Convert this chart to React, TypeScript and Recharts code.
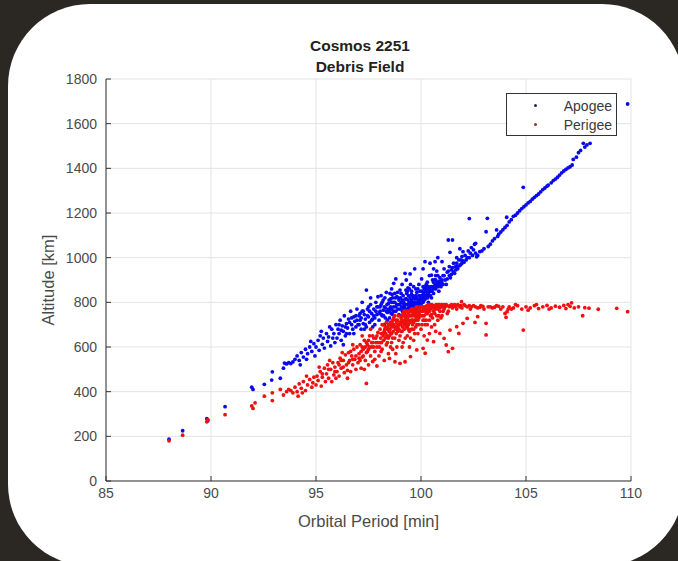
import React from "react";
import { ScatterChart, Scatter, XAxis, YAxis, CartesianGrid } from "recharts";

// [orbital period (min), altitude (km)]
const periodTicks = [85, 90, 95, 100, 105, 110];
const altitudeTicks = [0, 200, 400, 600, 800, 1000, 1200, 1400, 1600, 1800];

const apogee: [number, number][] = [
  [88.0, 187], [88.65, 225], [89.8, 279], [89.85, 270], [90.67, 333], [91.94, 420], [92.0, 410], [92.54, 433],
  [92.89, 452], [92.92, 489], [93.3, 460], [93.5, 528], [93.6, 524], [93.7, 530], [93.8, 526], [93.9, 533], [93.45, 505],
  [94.0, 545], [94.1, 560], [94.2, 540], [94.3, 575], [94.4, 555], [94.5, 590], [94.6, 570], [94.7, 600],
  [94.8, 580], [94.9, 615], [94.25, 520], [94.55, 545], [94.75, 625], [94.95, 560],
  [95.0, 600], [95.1, 630], [95.15, 585], [95.2, 650], [95.3, 612], [95.35, 640], [95.4, 595], [95.5, 660],
  [95.55, 625], [95.6, 645], [95.7, 605], [95.75, 680], [95.8, 640], [95.85, 660], [95.9, 620], [95.95, 700],
  [95.25, 670], [95.65, 690],
  [96.0, 640], [96.05, 680], [96.1, 660], [96.15, 720], [96.2, 630], [96.25, 695], [96.3, 670], [96.35, 740],
  [96.4, 650], [96.45, 705], [96.5, 685], [96.55, 725], [96.6, 660], [96.65, 760], [96.7, 700], [96.75, 680],
  [96.8, 735], [96.85, 715], [96.9, 690], [96.95, 770], [96.3, 610], [96.8, 660],
  [96.1, 700], [96.2, 675], [96.4, 690], [96.6, 710], [96.7, 730], [96.9, 740], [96.45, 660], [96.95, 720],
  [97.0, 700], [97.05, 740], [97.1, 720], [97.15, 680], [97.2, 760], [97.25, 705], [97.3, 745], [97.35, 725],
  [97.4, 855], [97.4, 690], [97.45, 770], [97.5, 735], [97.55, 710], [97.6, 790], [97.65, 750], [97.7, 725],
  [97.75, 770], [97.8, 700], [97.85, 800], [97.9, 745], [97.95, 825], [97.2, 800], [97.6, 820], [97.3, 680],
  [97.7, 690], [97.9, 780],
  [97.05, 700], [97.15, 730], [97.25, 760], [97.35, 700], [97.45, 740], [97.55, 760], [97.65, 720], [97.75, 740],
  [97.85, 760], [97.95, 780], [97.1, 750], [97.5, 780], [97.8, 730],
  [98.0, 720], [98.05, 760], [98.1, 790], [98.15, 740], [98.2, 810], [98.25, 700], [98.3, 775], [98.35, 845],
  [98.4, 755], [98.45, 795], [98.5, 730], [98.52, 840], [98.55, 815], [98.6, 770], [98.65, 745], [98.7, 885],
  [98.75, 800], [98.8, 760], [98.85, 825], [98.9, 790], [98.95, 745], [99.0, 855], [98.1, 830], [98.3, 730],
  [98.6, 860], [98.8, 905], [98.4, 720], [98.9, 820], [98.2, 765], [98.7, 780], [98.5, 760],
  [98.05, 780], [98.15, 800], [98.25, 780], [98.35, 760], [98.45, 770], [98.0, 750], [98.12, 745], [98.28, 820],
  [98.38, 790], [98.48, 810], [98.22, 740],
  [98.55, 780], [98.6, 800], [98.65, 820], [98.7, 760], [98.75, 840], [98.8, 780], [98.85, 790], [98.9, 770],
  [98.95, 810], [98.58, 750], [98.68, 800], [98.78, 820], [98.88, 845], [98.98, 790], [98.62, 835],
  [99.0, 770], [99.05, 800], [99.1, 740], [99.15, 830], [99.2, 785], [99.24, 930], [99.25, 760], [99.3, 815],
  [99.35, 850], [99.4, 775], [99.45, 800], [99.48, 927], [99.5, 760], [99.55, 835], [99.6, 790], [99.65, 870],
  [99.7, 815], [99.75, 770], [99.8, 845], [99.85, 800], [99.9, 880], [99.95, 780], [99.1, 880], [99.3, 900],
  [99.5, 880], [99.7, 950], [99.9, 830], [99.2, 750], [99.4, 830], [99.6, 760], [99.8, 800], [99.35, 790],
  [99.55, 810], [99.75, 860], [99.95, 850], [99.15, 770], [99.45, 860], [99.65, 820], [99.85, 780],
  [99.02, 820], [99.08, 780], [99.12, 810], [99.18, 800], [99.22, 775], [99.28, 790], [99.32, 840], [99.38, 810],
  [99.42, 795], [99.48, 820], [99.05, 840], [99.15, 795], [99.25, 815], [99.35, 770], [99.45, 780], [99.12, 760],
  [99.38, 865], [99.28, 855],
  [99.52, 790], [99.58, 800], [99.62, 780], [99.68, 800], [99.72, 790], [99.78, 820], [99.82, 815], [99.88, 800],
  [99.92, 810], [99.98, 820], [99.55, 850], [99.65, 795], [99.75, 830], [99.85, 860], [99.95, 800], [99.6, 830],
  [99.7, 785], [99.8, 780], [99.9, 795], [99.58, 775], [99.78, 795],
  [100.0, 790], [100.03, 905], [100.05, 830], [100.1, 800], [100.15, 860], [100.19, 982], [100.2, 815],
  [100.25, 880], [100.3, 840], [100.35, 800], [100.4, 920], [100.43, 975], [100.45, 850], [100.5, 922],
  [100.5, 820], [100.55, 870], [100.6, 840], [100.67, 982], [100.65, 900], [100.7, 860], [100.75, 940],
  [100.8, 880], [100.85, 850], [100.9, 910], [100.95, 870], [101.0, 982], [101.0, 900], [100.1, 950],
  [100.3, 890], [100.6, 950], [100.8, 1000], [100.2, 870], [100.4, 830], [100.7, 920], [100.9, 880],
  [100.05, 810], [100.35, 870], [100.55, 900], [100.75, 880],
  [100.02, 830], [100.08, 820], [100.12, 840], [100.18, 830], [100.22, 850], [100.28, 860], [100.32, 820],
  [100.38, 850], [100.42, 860], [100.48, 870], [100.05, 850], [100.15, 810], [100.25, 830], [100.35, 840],
  [100.45, 830], [100.1, 870], [100.3, 870],
  [100.52, 850], [100.58, 860], [100.62, 870], [100.68, 880], [100.72, 870], [100.78, 890], [100.82, 870],
  [100.88, 895], [100.92, 890], [100.98, 890], [100.6, 890], [100.8, 920], [100.7, 900],
  [101.05, 920], [101.1, 950], [101.2, 880], [101.25, 935], [101.3, 1079], [101.35, 960], [101.38, 1024],
  [101.4, 910], [101.45, 945], [101.5, 1079], [101.55, 975], [101.6, 930], [101.65, 960], [101.7, 1000],
  [101.75, 950], [101.8, 990], [101.85, 1040], [101.9, 970], [101.95, 1005], [102.0, 1027], [102.0, 985],
  [102.1, 1010], [102.2, 1000], [102.25, 1030], [102.3, 1175], [102.35, 1020], [102.4, 1045], [102.5, 1035],
  [102.55, 1060], [102.6, 1064],
  [101.05, 880], [101.15, 900], [101.25, 905], [101.35, 920], [101.45, 925], [101.55, 935], [101.65, 945],
  [101.75, 960], [101.85, 965], [101.95, 975], [101.1, 920], [101.3, 940], [101.5, 955], [101.7, 975],
  [101.9, 990], [102.05, 980], [102.15, 990], [102.3, 1000], [102.45, 1010], [102.6, 1020], [102.65, 1004],
  [102.7, 1010], [102.8, 1027], [102.9, 1030], [103.0, 1040], [103.1, 1116], [103.16, 1176], [103.2, 1050],
  [103.3, 1060], [103.4, 1075], [103.5, 1085], [103.6, 1124], [103.65, 1095], [103.7, 1105], [103.8, 1115],
  [103.9, 1125], [104.0, 1135], [104.08, 1181], [104.1, 1145], [104.2, 1160], [104.3, 1170], [104.4, 1185],
  [104.5, 1190], [104.6, 1200], [104.7, 1210], [104.87, 1315], [104.8, 1220], [104.9, 1228], [105.0, 1236],
  [105.1, 1245], [105.2, 1252], [105.3, 1262], [105.4, 1270], [105.5, 1278], [105.6, 1285], [105.7, 1295],
  [105.8, 1305], [105.9, 1312], [106.0, 1320], [106.06, 1325], [106.2, 1335], [106.3, 1345], [106.4, 1352],
  [106.5, 1360], [106.6, 1370], [106.7, 1380], [106.8, 1388], [106.9, 1395], [107.0, 1402], [107.1, 1407],
  [107.2, 1415], [107.25, 1440], [107.4, 1450], [107.5, 1470], [107.6, 1480], [107.73, 1512], [107.8, 1495],
  [107.9, 1505], [108.05, 1512], [109.84, 1688],
];

const perigee: [number, number][] = [
  [88.0, 180], [88.65, 205], [89.8, 265], [89.85, 275], [90.67, 297], [91.94, 336], [92.1, 350], [92.0, 325],
  [92.54, 380], [92.92, 360], [92.92, 395], [93.3, 410], [93.6, 400], [93.7, 410], [93.8, 405], [93.9, 395], [93.45, 385],
  [94.0, 420], [94.1, 400], [94.2, 435], [94.3, 415], [94.4, 445], [94.5, 405], [94.6, 430], [94.7, 455],
  [94.8, 420], [94.9, 465], [94.15, 380], [94.55, 470], [94.85, 440], [94.35, 395],
  [95.0, 430], [95.05, 470], [95.1, 450], [95.2, 490], [95.25, 425], [95.3, 465], [95.4, 505], [95.45, 445],
  [95.5, 480], [95.55, 520], [95.6, 460], [95.7, 500], [95.75, 445], [95.8, 530], [95.85, 475], [95.9, 510],
  [95.95, 460], [95.15, 510], [95.65, 540], [95.3, 480], [95.6, 500], [95.9, 490],
  [96.0, 490], [96.05, 530], [96.1, 470], [96.15, 550], [96.2, 505], [96.3, 540], [96.35, 485], [96.4, 565],
  [96.45, 520], [96.5, 495], [96.55, 575], [96.6, 540], [96.65, 490], [96.7, 560], [96.75, 520], [96.8, 590],
  [96.85, 545], [96.9, 500], [96.95, 600], [96.25, 575], [96.75, 610], [96.5, 460],
  [96.1, 520], [96.3, 510], [96.55, 530], [96.75, 545], [96.9, 560], [96.2, 540], [96.65, 580],
  [97.0, 530], [97.05, 570], [97.1, 610], [97.15, 505], [97.2, 555], [97.25, 590], [97.3, 630], [97.35, 540],
  [97.4, 437], [97.4, 575], [97.45, 610], [97.5, 520], [97.55, 650], [97.6, 560], [97.65, 600], [97.7, 535],
  [97.75, 640], [97.8, 580], [97.85, 620], [97.9, 515], [97.95, 665], [97.2, 650], [97.6, 680], [97.8, 545],
  [97.3, 500], [97.7, 620], [97.1, 540], [97.5, 590], [97.9, 600],
  [97.05, 550], [97.15, 580], [97.25, 560], [97.35, 600], [97.45, 580], [97.55, 600], [97.65, 620], [97.75, 600],
  [97.85, 640], [97.95, 620], [97.2, 600], [97.5, 630], [97.7, 650], [97.9, 650], [97.4, 620],
  [98.0, 560], [98.05, 620], [98.1, 660], [98.15, 590], [98.2, 700], [98.25, 540], [98.3, 640], [98.35, 610],
  [98.4, 680], [98.45, 570], [98.5, 549], [98.5, 650], [98.55, 710], [98.6, 620], [98.65, 590], [98.7, 690],
  [98.75, 640], [98.76, 534], [98.8, 720], [98.85, 600], [98.9, 670], [98.95, 630], [98.1, 580], [98.3, 690],
  [98.6, 660], [98.8, 570], [98.4, 620], [98.7, 730], [98.9, 700], [98.2, 650], [98.55, 600], [98.25, 670],
  [98.45, 700], [98.65, 640], [98.85, 680],
  [98.02, 600], [98.08, 640], [98.12, 620], [98.18, 660], [98.22, 630], [98.28, 680], [98.32, 660], [98.38, 650],
  [98.42, 690], [98.48, 670], [98.05, 680], [98.15, 700], [98.35, 710], [98.45, 640],
  [98.52, 680], [98.58, 690], [98.62, 710], [98.68, 670], [98.72, 700], [98.78, 690], [98.82, 660], [98.88, 720],
  [98.92, 740], [98.98, 700], [98.55, 660], [98.65, 720], [98.75, 740], [98.85, 710], [98.95, 680], [98.6, 700],
  [98.8, 680], [98.9, 690],
  [99.0, 527], [99.0, 650], [99.05, 700], [99.1, 740], [99.15, 620], [99.2, 680], [99.24, 534], [99.25, 720],
  [99.3, 760], [99.35, 650], [99.4, 700], [99.45, 600], [99.5, 557], [99.5, 740], [99.55, 680], [99.6, 770],
  [99.65, 630], [99.7, 720], [99.75, 690], [99.8, 587], [99.8, 760], [99.85, 660], [99.9, 730], [99.95, 780],
  [99.1, 600], [99.3, 690], [99.5, 640], [99.7, 660], [99.9, 700], [99.2, 760], [99.4, 750], [99.6, 720],
  [99.8, 700], [99.15, 710], [99.35, 730], [99.55, 770], [99.75, 750], [99.95, 740], [99.05, 670], [99.25, 640],
  [99.45, 670], [99.65, 710], [99.85, 740],
  [99.02, 710], [99.08, 720], [99.12, 690], [99.18, 740], [99.22, 700], [99.28, 730], [99.32, 710], [99.38, 760],
  [99.42, 720], [99.48, 710], [99.05, 730], [99.15, 750], [99.25, 700], [99.35, 690], [99.45, 740], [99.1, 670],
  [99.3, 740], [99.4, 680], [99.2, 720],
  [99.52, 760], [99.58, 740], [99.62, 750], [99.68, 770], [99.72, 740], [99.78, 780], [99.82, 740], [99.88, 760],
  [99.92, 770], [99.98, 760], [99.55, 720], [99.65, 760], [99.75, 720], [99.85, 770], [99.95, 760], [99.6, 700],
  [99.7, 740], [99.8, 730], [99.9, 750], [99.65, 680], [99.85, 720],
  [100.0, 760], [100.05, 700], [100.1, 594], [100.1, 780], [100.15, 740], [100.2, 572], [100.2, 700],
  [100.25, 770], [100.3, 631], [100.3, 750], [100.35, 790], [100.4, 720], [100.45, 770], [100.5, 745],
  [100.55, 785], [100.6, 624], [100.6, 760], [100.65, 700], [100.7, 780], [100.75, 740], [100.8, 770],
  [100.85, 790], [100.9, 661], [100.9, 760], [100.95, 780], [101.0, 740], [100.0, 680], [100.4, 660],
  [100.8, 720], [100.15, 650], [100.5, 690], [100.7, 670], [100.25, 720], [100.55, 730], [100.95, 730],
  [100.02, 780], [100.08, 760], [100.12, 770], [100.18, 780], [100.22, 760], [100.28, 785], [100.32, 770],
  [100.38, 780], [100.42, 790], [100.48, 775], [100.05, 740], [100.15, 720], [100.25, 750], [100.35, 760],
  [100.45, 740], [100.1, 720], [100.3, 700], [100.4, 760],
  [100.52, 790], [100.58, 775], [100.62, 785], [100.68, 770], [100.72, 790], [100.78, 780], [100.82, 790],
  [100.88, 775], [100.92, 785], [100.98, 790], [101.02, 780], [101.08, 790], [101.15, 780], [101.25, 785],
  [101.35, 780], [101.45, 790], [100.65, 750], [100.85, 740], [101.05, 760], [101.25, 750],
  [101.05, 785], [101.1, 639], [101.1, 770], [101.2, 609], [101.2, 790], [101.3, 579], [101.3, 760],
  [101.38, 676], [101.4, 785], [101.5, 594], [101.5, 775], [101.6, 790], [101.7, 691], [101.7, 770],
  [101.8, 661], [101.8, 785], [101.93, 803], [101.95, 775], [102.0, 706], [102.05, 790], [102.2, 728],
  [102.2, 780], [102.35, 770], [102.5, 785], [102.57, 710], [102.7, 736], [102.7, 775], [102.85, 785],
  [103.0, 770], [103.1, 654], [103.1, 706], [103.2, 780], [103.4, 775], [103.6, 785], [103.8, 770],
  [104.0, 750], [104.05, 733], [104.1, 758], [104.2, 780],
  [101.55, 785], [101.65, 780], [101.75, 790], [101.85, 780], [101.9, 785], [102.1, 785], [102.3, 785],
  [102.4, 780], [102.6, 780], [102.8, 778], [102.95, 782], [103.3, 780], [103.5, 778], [103.7, 782],
  [103.9, 780], [104.15, 770],
  [104.4, 775], [104.6, 785], [104.8, 770], [104.87, 676], [105.0, 780], [105.2, 775], [105.4, 785],
  [105.6, 772], [105.8, 780], [106.0, 786], [106.2, 775], [106.4, 783], [106.6, 778], [106.8, 786],
  [107.0, 790], [107.17, 798], [107.3, 775], [107.5, 780], [107.7, 740], [107.8, 776], [108.0, 774],
  [108.44, 769], [109.32, 773], [109.84, 758], [104.3, 770], [104.5, 790], [105.1, 765], [105.5, 790],
  [106.1, 770], [106.9, 772], [107.1, 782],
];

const seriesNames = ["Apogee", "Perigee"];
const seriesColors = ["#0a0af0", "#f01010"];

const font = "'Liberation Sans', Arial, sans-serif";

const toPoints = (rows: [number, number][]) => rows.map(([period, altitude]) => ({ period, altitude }));

const makeDot = (color: string) => (props: any) => (
  <circle cx={props.cx} cy={props.cy} r={1.9} fill={color} />
);

export default function App() {
  const data = [toPoints(apogee), toPoints(perigee)];

  return (
    <div
      style={{
        position: "fixed",
        left: 0,
        top: 0,
        width: 678,
        height: 561,
        background: "#2b2824",
        overflow: "hidden",
        fontFamily: font,
      }}
    >
      <div
        style={{
          position: "absolute",
          left: 8,
          top: 4,
          width: 676,
          height: 562,
          background: "#fff",
          borderRadius: 82,
        }}
      />
      <div style={{ position: "absolute", left: 0, top: 0 }}>
        <ScatterChart width={678} height={561} margin={{ top: 79, right: 47, bottom: 30, left: 46 }}>
          <CartesianGrid stroke="#e3e3e3" />
          <XAxis
            type="number"
            dataKey="period"
            domain={[85, 110]}
            ticks={periodTicks}
            height={50}
            stroke="#333"
            tickSize={-5}
            tickMargin={12}
            tick={{ fill: "#4a4a4a", fontSize: 14, fontFamily: font }}
            label={{
              value: "Orbital Period [min]",
              position: "insideBottom",
              offset: 4,
              fill: "#4a4a4a",
              fontSize: 16.5,
              fontFamily: font,
            }}
          />
          <YAxis
            type="number"
            dataKey="altitude"
            domain={[0, 1800]}
            ticks={altitudeTicks}
            width={60}
            stroke="#333"
            tickSize={-5}
            tickMargin={14}
            tick={{ fill: "#4a4a4a", fontSize: 14, fontFamily: font }}
            label={{
              value: "Altitude [km]",
              angle: -90,
              position: "insideLeft",
              offset: 2,
              fill: "#4a4a4a",
              fontSize: 16.5,
              fontFamily: font,
              style: { textAnchor: "middle" },
            }}
          />
          {data.map((points, i) => (
            <Scatter
              key={seriesNames[i]}
              name={seriesNames[i]}
              data={points}
              fill={seriesColors[i]}
              shape={makeDot(seriesColors[i])}
              isAnimationActive={false}
            />
          ))}
        </ScatterChart>
      </div>
      <div
        style={{
          position: "absolute",
          left: 160,
          width: 400,
          top: 35,
          textAlign: "center",
          fontWeight: "bold",
          fontSize: 15.5,
          lineHeight: "21px",
          color: "#222",
        }}
      >
        <div>Cosmos 2251</div>
        <div>Debris Field</div>
      </div>
      <div
        style={{
          position: "absolute",
          left: 506,
          top: 93,
          width: 111,
          height: 43,
          border: "1px solid #333",
          background: "#fff",
          boxSizing: "border-box",
          fontSize: 14,
          color: "#3a3a3a",
        }}
      >
        {seriesNames.map((name, i) => (
          <div key={name} style={{ display: "flex", alignItems: "center", height: 19, marginTop: i === 0 ? 2 : 0 }}>
            <span
              style={{
                width: 3,
                height: 3,
                borderRadius: 2,
                background: i === 0 ? "#22225a" : "#a03030",
                marginLeft: 27,
              }}
            />
            <span style={{ marginLeft: "auto", marginRight: 4 }}>{name}</span>
          </div>
        ))}
      </div>
    </div>
  );
}
